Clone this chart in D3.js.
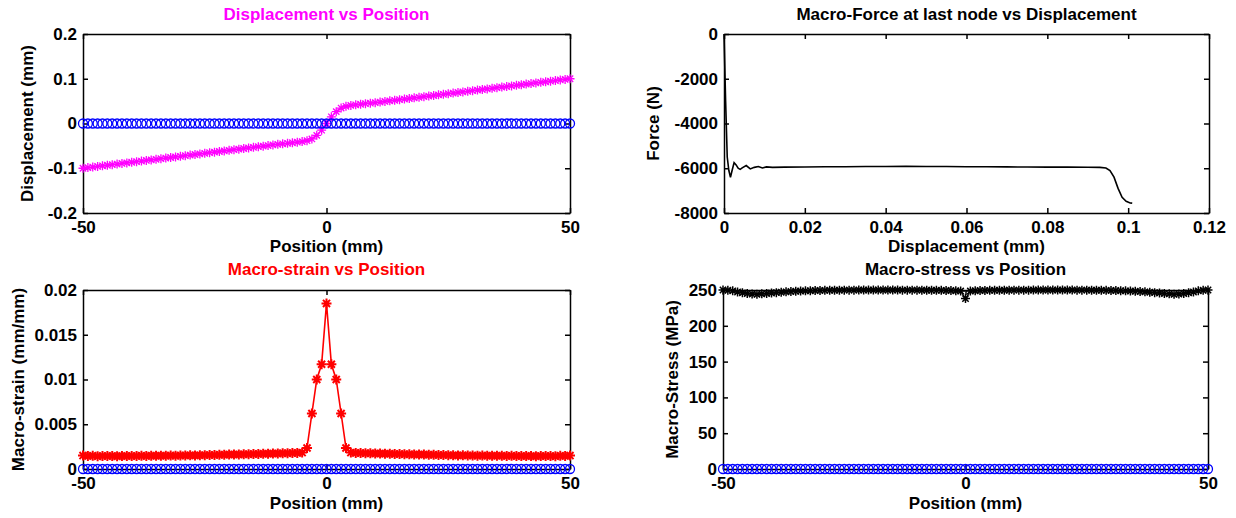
<!DOCTYPE html>
<html>
<head>
<meta charset="utf-8">
<script src="https://cdn.jsdelivr.net/npm/d3@7"></script>
<style>
  body { margin: 0; background: #fff; }
  svg text { font-family: "Liberation Sans", Arial, Helvetica, sans-serif; font-weight: bold; }
</style>
</head>
<body>
<svg id="fig" width="1236" height="518"></svg>
<script>
// node positions (mm)
var positions = [
  -50,-49,-48,-47,-46,-45,-44,-43,-42,-41,
  -40,-39,-38,-37,-36,-35,-34,-33,-32,-31,
  -30,-29,-28,-27,-26,-25,-24,-23,-22,-21,
  -20,-19,-18,-17,-16,-15,-14,-13,-12,-11,
  -10,-9,-8,-7,-6,-5,-4,-3,-2,-1,
  0,
  1,2,3,4,5,6,7,8,9,10,
  11,12,13,14,15,16,17,18,19,20,
  21,22,23,24,25,26,27,28,29,30,
  31,32,33,34,35,36,37,38,39,40,
  41,42,43,44,45,46,47,48,49,50
];

// reference (initial) state, all zero
var refZeros = [
  0,0,0,0,0,0,0,0,0,0, 0,0,0,0,0,0,0,0,0,0,
  0,0,0,0,0,0,0,0,0,0, 0,0,0,0,0,0,0,0,0,0,
  0,0,0,0,0,0,0,0,0,0,
  0,
  0,0,0,0,0,0,0,0,0,0, 0,0,0,0,0,0,0,0,0,0,
  0,0,0,0,0,0,0,0,0,0, 0,0,0,0,0,0,0,0,0,0,
  0,0,0,0,0,0,0,0,0,0
];

// displacement (mm)
var displacement = [
  -0.1000,-0.0986,-0.0973,-0.0960,-0.0946,-0.0933,-0.0920,-0.0906,-0.0893,-0.0880,
  -0.0866,-0.0853,-0.0840,-0.0826,-0.0813,-0.0800,-0.0786,-0.0773,-0.0760,-0.0746,
  -0.0733,-0.0720,-0.0706,-0.0693,-0.0680,-0.0666,-0.0653,-0.0640,-0.0626,-0.0613,
  -0.0600,-0.0586,-0.0573,-0.0559,-0.0546,-0.0533,-0.0519,-0.0506,-0.0493,-0.0479,
  -0.0466,-0.0454,-0.0442,-0.0430,-0.0418,-0.0405,-0.0385,-0.0345,-0.0265,-0.0150,
  0,
  0.0150,0.0265,0.0345,0.0385,0.0405,0.0418,0.0430,0.0442,0.0454,0.0466,
  0.0479,0.0493,0.0506,0.0519,0.0533,0.0546,0.0559,0.0573,0.0586,0.0600,
  0.0613,0.0626,0.0640,0.0653,0.0666,0.0680,0.0693,0.0706,0.0720,0.0733,
  0.0746,0.0760,0.0773,0.0786,0.0800,0.0813,0.0826,0.0840,0.0853,0.0866,
  0.0880,0.0893,0.0906,0.0920,0.0933,0.0946,0.0960,0.0973,0.0986,0.1000
];

// macro-strain (mm/mm)
var strain = [
  0.00150,0.00145,0.00147,0.00143,0.00145,0.00144,0.00146,0.00143,0.00145,0.00144,
  0.00146,0.00145,0.00147,0.00146,0.00148,0.00147,0.00149,0.00148,0.00150,0.00149,
  0.00151,0.00151,0.00153,0.00152,0.00154,0.00155,0.00156,0.00157,0.00158,0.00160,
  0.00161,0.00162,0.00163,0.00164,0.00166,0.00167,0.00168,0.00170,0.00171,0.00172,
  0.00174,0.00175,0.00177,0.00178,0.00180,0.00183,0.00235,0.00620,0.01000,0.01170,
  0.01850,
  0.01170,0.01000,0.00620,0.00235,0.00183,0.00180,0.00178,0.00177,0.00175,0.00174,
  0.00172,0.00171,0.00170,0.00168,0.00167,0.00166,0.00164,0.00163,0.00162,0.00161,
  0.00160,0.00158,0.00157,0.00156,0.00155,0.00154,0.00152,0.00153,0.00151,0.00151,
  0.00149,0.00150,0.00148,0.00149,0.00147,0.00148,0.00146,0.00147,0.00145,0.00146,
  0.00144,0.00145,0.00143,0.00146,0.00144,0.00145,0.00143,0.00147,0.00145,0.00150
];

// macro-stress (MPa)
var stress = [
  250.0,249.6,248.8,247.2,246.0,245.1,244.3,243.9,244.6,245.2,
  245.8,246.3,246.9,247.4,247.8,248.2,248.5,248.8,249.0,249.2,
  249.4,249.5,249.6,249.7,249.7,249.8,249.8,249.8,249.9,249.9,
  249.9,249.9,249.9,249.9,249.9,249.9,249.9,249.8,249.8,249.8,
  249.8,249.7,249.7,249.6,249.6,249.5,249.4,249.2,248.9,248.5,
  238.0,
  248.5,248.9,249.2,249.4,249.5,249.6,249.6,249.7,249.7,249.8,
  249.8,249.8,249.8,249.9,249.9,249.9,249.9,249.9,249.9,249.9,
  249.9,249.9,249.8,249.8,249.8,249.7,249.7,249.6,249.5,249.4,
  249.2,249.0,248.8,248.5,248.2,247.8,247.4,246.9,246.3,245.8,
  245.2,244.6,243.9,244.3,245.1,246.0,247.2,248.8,249.6,250.0
];

// force at last node vs applied displacement
var forceDisp = [0, 0.0004, 0.0008, 0.0012, 0.0016, 0.002, 0.0025, 0.003, 0.0035, 0.004,
  0.0045, 0.0055, 0.0065, 0.0075, 0.0085, 0.0095, 0.0105, 0.012, 0.015, 0.02,
  0.025, 0.03, 0.035, 0.04, 0.045, 0.05, 0.055, 0.06, 0.065, 0.07,
  0.075, 0.08, 0.085, 0.09, 0.093, 0.0945, 0.0955, 0.0965, 0.0975, 0.0985,
  0.0995, 0.1005, 0.101];
var force = [0, -3000, -5500, -6100, -6400, -6100, -5750, -5850, -6000, -6050,
  -5980, -5880, -6030, -5960, -5920, -5990, -5940, -5960, -5950, -5945,
  -5935, -5930, -5925, -5920, -5918, -5920, -5925, -5930, -5935, -5940,
  -5945, -5950, -5950, -5955, -5960, -5990, -6100, -6400, -6900, -7300,
  -7480, -7550, -7560];

// tick values
var posTicks = [-50, 0, 50];
var dispTicks = [-0.2, -0.1, 0, 0.1, 0.2];
var forceXTicks = [0, 0.02, 0.04, 0.06, 0.08, 0.1, 0.12];
var forceYTicks = [-8000, -6000, -4000, -2000, 0];
var strainTicks = [0, 0.005, 0.01, 0.015, 0.02];
var stressTicks = [0, 50, 100, 150, 200, 250];

var svg = d3.select('#fig');
var fontSize = 17;

function starPath(r){
  var k = r * 0.7071;
  return 'M' + (-r) + ',0L' + r + ',0M0,' + (-r) + 'L0,' + r +
    'M' + (-k) + ',' + (-k) + 'L' + k + ',' + k +
    'M' + (-k) + ',' + k + 'L' + k + ',' + (-k);
}

function buildAxes(cfg){
  var g = svg.append('g');
  var x = d3.scaleLinear().domain(cfg.xDomain).range([cfg.left, cfg.right]);
  var y = d3.scaleLinear().domain(cfg.yDomain).range([cfg.bottom, cfg.top]);
  var fmt = function(d){ return String(d); };

  g.append('g')
    .attr('transform', 'translate(0,' + cfg.bottom + ')')
    .call(d3.axisBottom(x).tickValues(cfg.xTicks).tickFormat(fmt).tickSizeInner(-5).tickSizeOuter(0).tickPadding(8))
    .classed('ax', true);
  g.append('g')
    .attr('transform', 'translate(0,' + cfg.top + ')')
    .call(d3.axisTop(x).tickValues(cfg.xTicks).tickFormat('').tickSizeInner(-5).tickSizeOuter(0))
    .classed('ax', true);
  g.append('g')
    .attr('transform', 'translate(' + cfg.left + ',0)')
    .call(d3.axisLeft(y).tickValues(cfg.yTicks).tickFormat(fmt).tickSizeInner(-5).tickSizeOuter(0).tickPadding(6))
    .classed('ax', true);
  g.append('g')
    .attr('transform', 'translate(' + cfg.right + ',0)')
    .call(d3.axisRight(y).tickValues(cfg.yTicks).tickFormat('').tickSizeInner(-5).tickSizeOuter(0))
    .classed('ax', true);

  g.selectAll('.ax path.domain').attr('stroke', '#000').attr('stroke-width', 1.5);
  g.selectAll('.ax line').attr('stroke', '#000').attr('stroke-width', 1.5);
  g.selectAll('.ax text')
    .attr('fill', '#000')
    .style('font-size', fontSize + 'px')
    .style('font-family', '"Liberation Sans", Arial, Helvetica, sans-serif')
    .style('font-weight', 'bold');

  var cx = (cfg.left + cfg.right) / 2;
  var cy = (cfg.top + cfg.bottom) / 2;

  g.append('text')
    .attr('x', cx).attr('y', cfg.titleY)
    .attr('text-anchor', 'middle')
    .attr('fill', cfg.titleColor)
    .style('font-size', fontSize + 'px')
    .text(cfg.title);

  g.append('text')
    .attr('x', cx).attr('y', cfg.xLabelY)
    .attr('text-anchor', 'middle')
    .style('font-size', fontSize + 'px')
    .text(cfg.xLabel);

  g.append('text')
    .attr('transform', 'translate(' + cfg.yLabelX + ',' + cy + ') rotate(-90)')
    .attr('text-anchor', 'middle')
    .style('font-size', fontSize + 'px')
    .text(cfg.yLabel);

  return { g: g, x: x, y: y };
}

function drawLine(ax, xs, ys, color, width){
  var line = d3.line()
    .x(function(d){ return ax.x(d[0]); })
    .y(function(d){ return ax.y(d[1]); });
  ax.g.append('path')
    .datum(d3.zip(xs, ys))
    .attr('d', line)
    .attr('fill', 'none')
    .attr('stroke', color)
    .attr('stroke-width', width);
}

function drawStars(ax, xs, ys, color, r, width){
  ax.g.append('g')
    .selectAll('path')
    .data(d3.zip(xs, ys))
    .enter()
    .append('path')
    .attr('transform', function(d){ return 'translate(' + ax.x(d[0]) + ',' + ax.y(d[1]) + ')'; })
    .attr('d', starPath(r))
    .attr('fill', 'none')
    .attr('stroke', color)
    .attr('stroke-width', width);
}

function drawCircles(ax, xs, ys, color, r){
  ax.g.append('g')
    .selectAll('circle')
    .data(d3.zip(xs, ys))
    .enter()
    .append('circle')
    .attr('cx', function(d){ return ax.x(d[0]); })
    .attr('cy', function(d){ return ax.y(d[1]); })
    .attr('r', r)
    .attr('fill', 'none')
    .attr('stroke', color)
    .attr('stroke-width', 1.3);
}

// Displacement vs Position
var ax1 = buildAxes({
  left: 83, right: 570, top: 34, bottom: 213,
  xDomain: [-50, 50], yDomain: [-0.2, 0.2],
  xTicks: posTicks, yTicks: dispTicks,
  title: 'Displacement vs Position', titleColor: '#ff00ff', titleY: 20,
  xLabel: 'Position (mm)', xLabelY: 252,
  yLabel: 'Displacement (mm)', yLabelX: 33
});
drawLine(ax1, positions, displacement, '#ff00ff', 1.2);
drawStars(ax1, positions, displacement, '#ff00ff', 4.5, 1.3);
drawCircles(ax1, positions, refZeros, '#0000ff', 4.5);

// Macro-Force at last node vs Displacement
var ax2 = buildAxes({
  left: 724, right: 1209, top: 34, bottom: 213,
  xDomain: [0, 0.12], yDomain: [-8000, 0],
  xTicks: forceXTicks, yTicks: forceYTicks,
  title: 'Macro-Force at last node vs Displacement', titleColor: '#000', titleY: 20,
  xLabel: 'Displacement (mm)', xLabelY: 252,
  yLabel: 'Force (N)', yLabelX: 659
});
drawLine(ax2, forceDisp, force, '#000', 1.6);

// Macro-strain vs Position
var ax3 = buildAxes({
  left: 83, right: 570, top: 290, bottom: 469,
  xDomain: [-50, 50], yDomain: [0, 0.02],
  xTicks: posTicks, yTicks: strainTicks,
  title: 'Macro-strain vs Position', titleColor: '#ff0000', titleY: 275,
  xLabel: 'Position (mm)', xLabelY: 509,
  yLabel: 'Macro-strain (mm/mm)', yLabelX: 24
});
drawLine(ax3, positions, strain, '#ff0000', 1.6);
drawStars(ax3, positions, strain, '#ff0000', 5, 2);
drawCircles(ax3, positions, refZeros, '#0000ff', 4.5);

// Macro-stress vs Position
var ax4 = buildAxes({
  left: 723, right: 1208, top: 290, bottom: 469,
  xDomain: [-50, 50], yDomain: [0, 250],
  xTicks: posTicks, yTicks: stressTicks,
  title: 'Macro-stress vs Position', titleColor: '#000', titleY: 275,
  xLabel: 'Position (mm)', xLabelY: 509,
  yLabel: 'Macro-Stress (MPa)', yLabelX: 678
});
drawLine(ax4, positions, stress, '#000', 1.2);
drawStars(ax4, positions, stress, '#000', 4.5, 1.5);
drawCircles(ax4, positions, refZeros, '#0000ff', 4.5);
</script>
</body>
</html>
